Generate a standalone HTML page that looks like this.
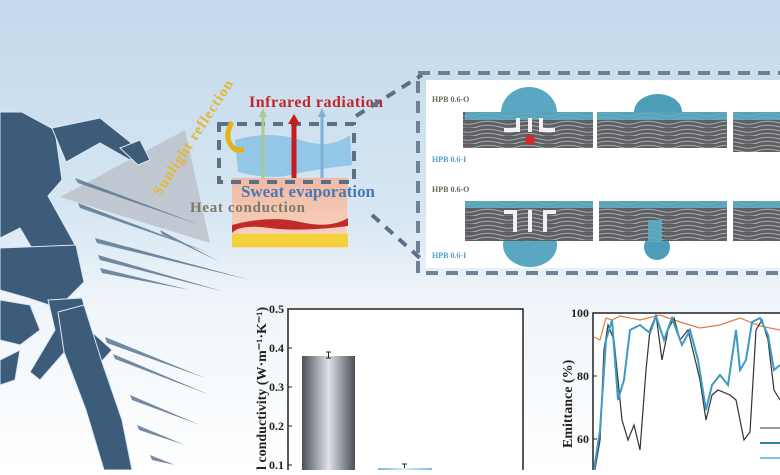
<!DOCTYPE html>
<html><head><meta charset="utf-8"><style>
html,body{margin:0;padding:0;}
body{width:780px;height:470px;overflow:hidden;font-family:"Liberation Serif",serif;}
</style></head><body>
<svg width="780" height="470" viewBox="0 0 780 470" xmlns="http://www.w3.org/2000/svg">
<defs>
<linearGradient id="bg" x1="0" y1="0" x2="0" y2="1">
<stop offset="0" stop-color="#c3d9eb"/><stop offset="0.45" stop-color="#d6e6f2"/><stop offset="0.62" stop-color="#eef4f9"/><stop offset="1" stop-color="#ffffff"/>
</linearGradient>
<linearGradient id="bar1" x1="0" x2="1"><stop offset="0" stop-color="#4a5058"/><stop offset="0.5" stop-color="#dfe3e8"/><stop offset="1" stop-color="#4a5058"/></linearGradient>
<linearGradient id="bar2" x1="0" x2="1"><stop offset="0" stop-color="#7fb6d8"/><stop offset="0.5" stop-color="#d9ecf7"/><stop offset="1" stop-color="#7fb6d8"/></linearGradient>
<linearGradient id="skin" x1="0" y1="0" x2="0" y2="1"><stop offset="0" stop-color="#f0b9a4"/><stop offset="1" stop-color="#f8d6c0"/></linearGradient>
<pattern id="fib" width="40" height="8" patternUnits="userSpaceOnUse"><rect width="40" height="8" fill="#5d5f62"/><path d="M0 2 Q10 0 20 3 T40 2 M0 6 Q10 4 20 7 T40 6" stroke="#a8aaad" stroke-width="1" fill="none"/></pattern>
</defs>
<rect width="780" height="470" fill="url(#bg)"/>

<polygon points="60,197 185,130 210,243" fill="#b9bec6" opacity="0.75"/>
<g fill="#5c7791" opacity="0.85">
<polygon points="75,178 200,225 78,183"/>
<polygon points="78,203 210,253 80,208"/>
<polygon points="95,238 250,280 97,243"/>
<polygon points="98,255 225,292 100,260"/>
<polygon points="100,268 190,290 102,273"/>
<polygon points="105,337 205,378 107,343"/>
<polygon points="113,354 210,395 115,359"/>
<polygon points="130,395 200,425 132,400"/>
<polygon points="137,425 185,445 139,430"/>
<polygon points="150,455 175,465 152,460"/>
<polygon points="160,230 220,262 162,234"/>
</g>
<g fill="#3d5c7a" stroke="#dbe7f1" stroke-width="1">
<polygon points="0,112 22,112 55,130 62,180 48,196 78,250 72,262 40,262 20,228 0,238"/>
<polygon points="52,128 100,118 140,150 130,160 100,143 66,162"/>
<polygon points="120,148 140,140 150,160 138,165"/>
<polygon points="0,248 76,245 84,282 58,308 28,298 0,290"/>
<polygon points="48,300 82,298 92,332 112,350 92,372 68,348 40,380 30,372 55,330"/>
<polygon points="58,312 84,305 102,362 122,420 132,470 104,470 86,410 64,352"/>
<polygon points="0,300 30,305 40,330 20,345 0,340"/>
<polygon points="0,360 20,350 15,380 0,385"/>
</g>

<polygon points="232,178 348,178 346,248 232,248" fill="url(#skin)"/>
<path d="M232 225 Q270 215 300 222 T348 218 L348 226 Q300 232 270 228 T232 233Z" fill="#c12a2a"/>
<polygon points="232,234 348,234 348,247 232,247" fill="#f2d13a"/>
<path d="M235 140 Q270 130 300 140 T350 135 L352 165 Q310 170 290 175 T238 172Z" fill="#8cc3e6" opacity="0.9"/>
<rect x="219" y="124" width="135" height="58" fill="none" stroke="#5b6f87" stroke-width="4" stroke-dasharray="10,8"/>
<line x1="263" y1="178" x2="263" y2="115" stroke="#a8c990" stroke-width="3"/>
<polygon points="259,117 263,108 267,117" fill="#a8c990"/>
<line x1="294" y1="178" x2="294" y2="122" stroke="#c41e1e" stroke-width="5"/>
<polygon points="288,124 294,114 300,124" fill="#c41e1e"/>
<line x1="322" y1="178" x2="322" y2="115" stroke="#7cb0d8" stroke-width="3"/>
<polygon points="318,117 322,108 326,117" fill="#7cb0d8"/>
<path d="M232 122 Q222 140 236 150 L244 150" stroke="#e3b21a" stroke-width="5" fill="none"/>
<text x="249" y="107" font-size="16" font-weight="bold" fill="#c2262a" textLength="134">Infrared radiation</text>
<text x="241" y="197" font-size="17" font-weight="bold" fill="#4a78b0" textLength="134">Sweat evaporation</text>
<text x="190" y="212" font-size="15" font-weight="bold" fill="#7c7a68" textLength="115">Heat conduction</text>
<text x="0" y="0" font-size="15" font-weight="bold" fill="#e2b73a" textLength="135" transform="translate(160,197) rotate(-57)">Sunlight reflection</text>

<line x1="356" y1="116" x2="422" y2="75" stroke="#5b6f87" stroke-width="4" stroke-dasharray="10,8"/>
<line x1="372" y1="215" x2="420" y2="258" stroke="#5b6f87" stroke-width="4" stroke-dasharray="10,8"/>
<rect x="426" y="80" width="360" height="188" fill="#ffffff"/>
<rect x="418" y="73" width="370" height="200" fill="none" stroke="#6f8196" stroke-width="4" stroke-dasharray="12,8"/>
<g font-size="8" font-weight="bold">
<text x="432" y="102" fill="#6a6658">HPB 0.6-O</text>
<text x="432" y="162" fill="#4c9fcf">HPB 0.6-I</text>
<text x="432" y="192" fill="#6a6658">HPB 0.6-O</text>
<text x="432" y="258" fill="#4c9fcf">HPB 0.6-I</text>
</g>
<ellipse cx="529" cy="113" rx="28" ry="26" fill="#5aa7c1"/>
<ellipse cx="658" cy="112" rx="24" ry="18" fill="#4d9db9"/>
<ellipse cx="530" cy="245" rx="27" ry="22" fill="#5aa7c1"/>
<circle cx="657" cy="247" r="13" fill="#4d9db9"/>
<rect x="463" y="112" width="130" height="36" fill="url(#fib)"/>
<rect x="597" y="112" width="130" height="36" fill="url(#fib)"/>
<rect x="733" y="112" width="50" height="40" fill="url(#fib)"/>
<rect x="465" y="201" width="128" height="40" fill="url(#fib)"/>
<rect x="599" y="201" width="128" height="40" fill="url(#fib)"/>
<rect x="733" y="201" width="50" height="40" fill="url(#fib)"/>
<g fill="#5bb0c9" opacity="0.85">
<rect x="465" y="112" width="128" height="8"/><rect x="597" y="112" width="130" height="8"/><rect x="733" y="112" width="50" height="8"/>
<rect x="465" y="201" width="128" height="7"/><rect x="599" y="201" width="128" height="7"/><rect x="733" y="201" width="50" height="7"/>
<rect x="648" y="220" width="14" height="22"/>
</g>
<g stroke="#f2f2f2" stroke-width="4" fill="none">
<path d="M518 118 V130 H504"/><path d="M530 118 V132"/><path d="M541 118 V130 H555"/>
<path d="M515 232 V212 H504"/><path d="M530 232 V210"/><path d="M545 232 V212 H556"/>
</g>
<circle cx="530" cy="140" r="5" fill="#d42a2a"/>

<rect x="288" y="309" width="235" height="170" fill="#fff" stroke="#222" stroke-width="1.5"/>
<g font-size="12" font-weight="bold" fill="#222" text-anchor="end">
<text x="284" y="313">0.5</text><text x="284" y="352">0.4</text><text x="284" y="391">0.3</text><text x="284" y="430">0.2</text><text x="284" y="469">0.1</text>
</g>
<g stroke="#222"><line x1="288" y1="348" x2="292" y2="348"/><line x1="288" y1="387" x2="292" y2="387"/><line x1="288" y1="426" x2="292" y2="426"/><line x1="288" y1="465" x2="292" y2="465"/></g>
<rect x="302" y="356" width="53" height="120" fill="url(#bar1)"/>
<rect x="378" y="468" width="54" height="10" fill="url(#bar2)"/>
<path d="M326 352 H331 M328.5 352 V358 M326 358 H331 M402 464 H407 M404.5 464 V468" stroke="#222" stroke-width="1"/>
<text x="0" y="0" font-size="14" font-weight="bold" fill="#222" transform="translate(266,470) rotate(-90)">l conductivity (W·m⁻¹·K⁻¹)</text>

<rect x="593" y="313" width="200" height="170" fill="#fff" stroke="#222" stroke-width="1.5"/>
<g font-size="12" font-weight="bold" fill="#222" text-anchor="end">
<text x="589" y="317">100</text><text x="589" y="380">80</text><text x="589" y="443">60</text>
</g>
<g stroke="#222"><line x1="593" y1="376" x2="597" y2="376"/><line x1="593" y1="439" x2="597" y2="439"/></g>
<text x="0" y="0" font-size="14" font-weight="bold" fill="#222" transform="translate(572,448) rotate(-90)">Emittance (%)</text>
<path d="M594 337 L600 340 L606 318 L612 320 L620 316 L640 320 L660 315 L680 322 L700 328 L720 325 L740 318 L760 326 L780 330" stroke="#e07a4a" stroke-width="1.2" fill="none"/>
<path d="M594 475 L600 440 L604 350 L608 325 L614 340 L622 420 L628 440 L634 425 L640 450 L646 370 L650 330 L656 315 L662 360 L668 330 L674 318 L680 340 L688 330 L700 380 L706 420 L712 395 L718 390 L730 395 L736 400 L744 440 L750 432 L756 330 L762 320 L768 340 L774 390 L780 400" stroke="#333" stroke-width="1.2" fill="none"/>
<path d="M594 470 L600 430 L606 340 L612 320 L618 400 L624 380 L630 330 L640 325 L650 333 L656 316 L664 340 L672 318 L682 345 L690 330 L698 360 L706 410 L712 385 L720 375 L728 385 L736 330 L740 370 L746 360 L752 322 L760 318 L768 335 L774 370 L780 365" stroke="#3d9ac4" stroke-width="2" fill="none"/>
<line x1="760" y1="428" x2="780" y2="428" stroke="#333"/>
<line x1="760" y1="443" x2="780" y2="443" stroke="#2d7ea8" stroke-width="2"/>
<line x1="760" y1="458" x2="780" y2="458" stroke="#7fc2e6" stroke-width="2"/>
</svg>
</body></html>
